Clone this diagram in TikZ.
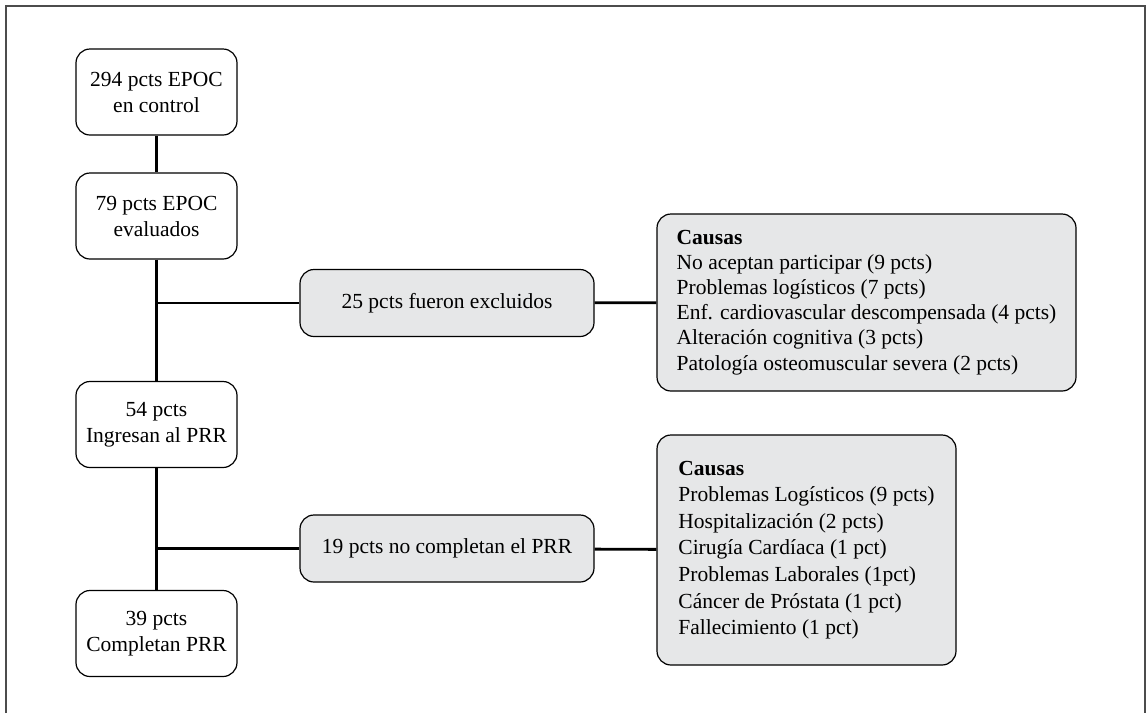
\documentclass[tikz,border=0pt]{standalone}
\usepackage{fontspec}
\setmainfont{Liberation Serif}
\definecolor{grisclaro}{HTML}{E6E7E8}
\begin{document}
\begin{tikzpicture}[x=1pt,y=-1pt,
    caja/.style={draw,line width=1.2pt,rounded corners=14pt,align=center,inner sep=0pt,
        minimum width=161pt,minimum height=86pt,font=\fontsize{21.5}{26}\selectfont},
    cajagris/.style={caja,fill=grisclaro,minimum width=294pt,minimum height=67pt},
    causas/.style={caja,fill=grisclaro,align=left},
    linea/.style={line width=2.8pt}]
    \useasboundingbox (0,0) rectangle (1146,713);
    \draw[line width=2pt,black!70] (6,713) -- (6,6) -- (1145,6) -- (1145,713);
    \node[caja] (control) at (156.5,92) {294 pcts EPOC\\en control};
    \node[caja] (evaluados) at (156.5,216) {79 pcts EPOC\\evaluados};
    \node[caja] (ingresan) at (156.5,424.5) {54 pcts\\Ingresan al PRR};
    \node[caja] (completan) at (156.5,633.5) {39 pcts\\Completan PRR};
    \node[cajagris] (excluidos) at (447,303) {25 pcts fueron excluidos};
    \node[cajagris] (nocompletan) at (447,548.5) {19 pcts no completan el PRR};
    \node[causas,minimum width=419pt,minimum height=177pt,font=\fontsize{21.5}{25.1}\selectfont]
        (causasexcl) at (866.5,302.5) {\textbf{Causas}\\No aceptan participar (9 pcts)\\Problemas logísticos (7 pcts)\\Enf. cardiovascular descompensada (4 pcts)\\Alteración cognitiva (3 pcts)\\Patología osteomuscular severa (2 pcts)};
    \node[causas,minimum width=299pt,minimum height=230pt,font=\fontsize{21.5}{26.6}\selectfont]
        (causasnocomp) at (806.5,550) {\textbf{Causas}\\Problemas Logísticos (9 pcts)\\Hospitalización (2 pcts)\\Cirugía Cardíaca (1 pct)\\Problemas Laborales (1pct)\\Cáncer de Próstata (1 pct)\\Fallecimiento (1 pct)};
    \coordinate (rama1) at (control.center |- excluidos.west);
    \coordinate (rama2) at (control.center |- nocompletan.west);
    \draw[linea] (control) -- (evaluados);
    \draw[linea] (evaluados) -- (ingresan);
    \draw[linea] (ingresan) -- (completan);
    \draw[linea] (rama1) -- (excluidos);
    \draw[linea] (excluidos) -- (causasexcl);
    \draw[linea] (rama2) -- (nocompletan);
    \draw[linea] (nocompletan) -- (causasnocomp);
\end{tikzpicture}
\end{document}
